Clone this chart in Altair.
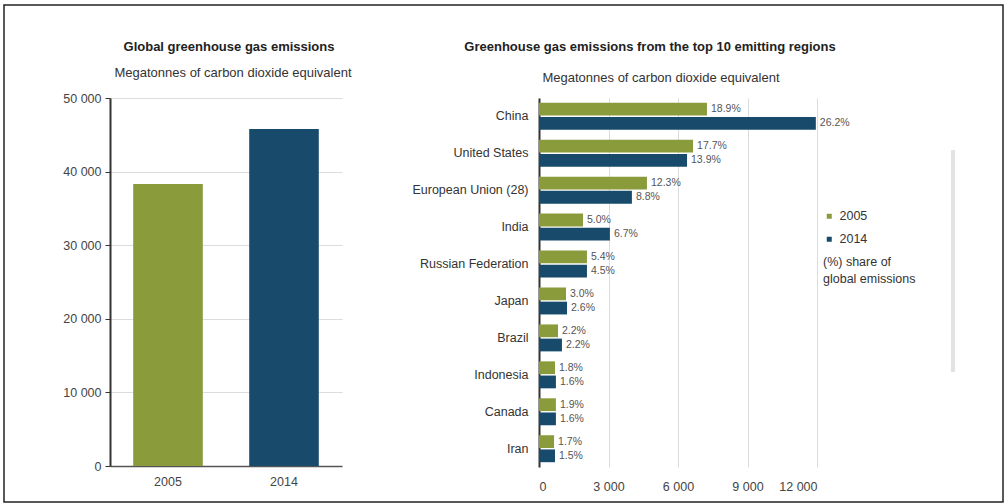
import altair as alt
import pandas as pd

# ---------------- data ----------------
years = ["2005", "2014"]
global_values = [38300, 45800]

regions = ["China", "United States", "European Union (28)", "India",
           "Russian Federation", "Japan", "Brazil", "Indonesia", "Canada", "Iran"]
values_2005 = [7250, 6650, 4660, 1900, 2070, 1165, 820, 690, 730, 650]
values_2014 = [11950, 6390, 4010, 3060, 2070, 1210, 990, 730, 730, 690]
labels_2005 = ["18.9%", "17.7%", "12.3%", "5.0%", "5.4%", "3.0%", "2.2%", "1.8%", "1.9%", "1.7%"]
labels_2014 = ["26.2%", "13.9%", "8.8%", "6.7%", "4.5%", "2.6%", "2.2%", "1.6%", "1.6%", "1.5%"]

x_ticks_left = [0, 10000, 20000, 30000, 40000, 50000]
x_ticks_right = [0, 3000, 6000, 9000, 12000]

left_title = "Global greenhouse gas emissions"
right_title = "Greenhouse gas emissions from the top 10 emitting regions"
unit_title = "Megatonnes of carbon dioxide equivalent"
legend_note = "(%) share of\nglobal emissions"

GREEN = "#8a9b3c"
BLUE = "#184a6c"
FONT = "Liberation Sans"
FS = 12.5
space_fmt = "replace(format(datum.value, ','), ',', ' ')"


def title_text(text, x, y, bold):
    return alt.Chart(pd.DataFrame({"t": [text]})).mark_text(
        align="center", baseline="middle", fontSize=13,
        fontWeight="bold" if bold else "normal",
        color="#222" if bold else "#333",
    ).encode(text="t:N", x=alt.value(x), y=alt.value(y))


# ---------------- left panel ----------------
left_df = pd.DataFrame({"year": years, "value": global_values})

left_bars = alt.Chart(left_df).mark_bar().encode(
    x=alt.X("year:N", sort=years,
            scale=alt.Scale(paddingInner=0.4, paddingOuter=0.2),
            axis=alt.Axis(title=None, labelAngle=0, ticks=False, domainColor="#555",
                          domainWidth=1.5, labelFontSize=FS, labelColor="#444",
                          labelPadding=9)),
    y=alt.Y("value:Q", scale=alt.Scale(domain=[0, 50000]),
            axis=alt.Axis(values=x_ticks_left, labelExpr=space_fmt, title=None,
                          grid=True, gridColor="#dcdcdc", domainColor="#333",
                          domainWidth=2, tickColor="#333", tickSize=5,
                          labelFontSize=FS, labelColor="#444", labelPadding=4)),
    color=alt.Color("year:N", scale=alt.Scale(domain=years, range=[GREEN, BLUE]),
                    legend=None),
)

frame = alt.Chart(pd.DataFrame({"f": [0]})).mark_rect(
    fillOpacity=0, stroke="#222", strokeWidth=1.5
).encode(x=alt.value(-106), x2=alt.value(893), y=alt.value(-93), y2=alt.value(404))

left = alt.layer(
    frame, left_bars,
    title_text(left_title, 119, -51, True),
    title_text(unit_title, 123, -25, False),
).properties(width=232, height=368)

# ---------------- right panel ----------------
rows = []
for r, v5, v14, l5, l14 in zip(regions, values_2005, values_2014, labels_2005, labels_2014):
    rows.append({"region": r, "year": "2005", "value": v5, "label": l5})
    rows.append({"region": r, "year": "2014", "value": v14, "label": l14})
reg_df = pd.DataFrame(rows)

base = alt.Chart(reg_df).encode(
    y=alt.Y("region:N", sort=regions,
            scale=alt.Scale(paddingInner=0.27, paddingOuter=0.13),
            axis=alt.Axis(title=None, ticks=False, labelPadding=11, domainColor="#333",
                          domainWidth=2, labelFontSize=FS, labelColor="#333")),
    yOffset=alt.YOffset("year:N", sort=years, scale=alt.Scale(paddingInner=0.1)),
    x=alt.X("value:Q", scale=alt.Scale(domain=[0, 12000]),
            axis=alt.Axis(values=x_ticks_right, labelExpr=space_fmt, title=None,
                          grid=True, gridColor="#dcdcdc", domain=False, ticks=False,
                          labelFontSize=FS, labelColor="#444", labelPadding=13)),
)

right_bars = base.mark_bar().encode(
    color=alt.Color("year:N", scale=alt.Scale(domain=years, range=[GREEN, BLUE]),
                    legend=alt.Legend(orient="none", legendX=284, legendY=112,
                                      title=None, symbolType="square", symbolSize=25,
                                      labelFontSize=FS, labelColor="#333",
                                      rowPadding=10)),
)
right_text = base.mark_text(align="left", baseline="middle", dx=4, fontSize=10.5).encode(
    text="label:N", color=alt.value("#555"))

share_note = alt.Chart(pd.DataFrame({"t": [legend_note]})).mark_text(
    align="left", baseline="top", fontSize=FS, color="#333", lineBreak="\n", lineHeight=17
).encode(text="t:N", x=alt.value(284), y=alt.value(158))

side_bar = alt.Chart(pd.DataFrame({"s": [0]})).mark_rule(
    color="#e3e3e3", strokeWidth=4
).encode(x=alt.value(414), y=alt.value(52), y2=alt.value(274))

right = alt.layer(
    right_bars, right_text, share_note, side_bar,
    title_text(right_title, 111, -51, True),
    title_text(unit_title, 122, -20, False),
).properties(width=278, height=369)

chart = alt.hconcat(left, right, spacing=197, bounds="flush").resolve_scale(
    color="independent"
).properties(
    padding={"left": 3, "top": 4, "right": 0, "bottom": 0}
).configure(font=FONT).configure_view(stroke=None)

chart.save("out.html", embed_options={"renderer": "svg", "actions": False})
